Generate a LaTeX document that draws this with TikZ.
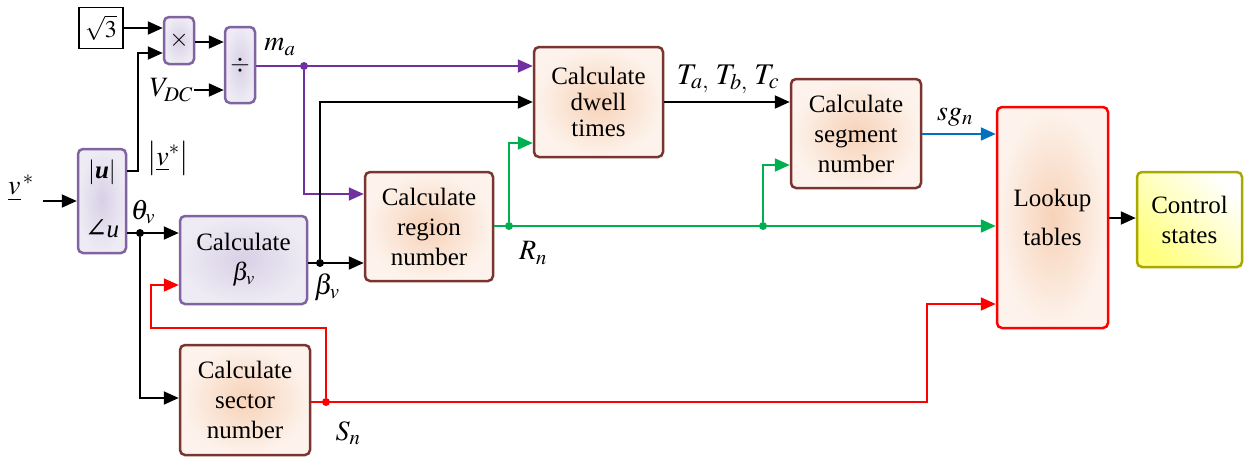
\documentclass[tikz,border=0pt]{standalone}
\usepackage{mathptmx}
\usepackage[no-math]{fontspec}
\setmainfont{Liberation Serif}
\newfontfamily\djsym{DejaVu Serif}
\usetikzlibrary{arrows.meta,calc}
\definecolor{purpB}{HTML}{8064A2}
\definecolor{purpL}{HTML}{7030A0}
\definecolor{purpIn}{HTML}{D8D0E6}
\definecolor{purpOut}{HTML}{EEEBF4}
\definecolor{brownB}{HTML}{7A3530}
\definecolor{peachIn}{HTML}{F7D2B8}
\definecolor{peachOut}{HTML}{FDF3EC}
\definecolor{grn}{HTML}{00B050}
\definecolor{blu}{HTML}{0070C0}
\definecolor{redL}{HTML}{FF0000}
\definecolor{oliveB}{HTML}{A8A800}
\definecolor{yel}{HTML}{FFFF80}
\begin{document}
\begin{tikzpicture}[x=1pt,y=-1pt,
  txt/.style={font=\fontsize{25}{30}\selectfont},
  blk/.style={txt, rounded corners=5pt, line width=2.5pt, align=center, inner sep=0pt},
  pblk/.style={blk, draw=purpB, inner color=purpIn, outer color=purpOut},
  bblk/.style={blk, draw=brownB, inner color=peachIn, outer color=peachOut},
  lbl/.style={font=\fontsize{28}{32}\selectfont, inner sep=1pt},
  arr/.style={line width=2pt, -{Triangle[length=15pt,width=13pt]}},
  parr/.style={arr, purpL, line width=1.8pt},
  garr/.style={arr, grn},
  rarr/.style={arr, redL},
  barr/.style={arr, blu},
  dot/.style={circle, fill, inner sep=0pt, minimum size=8pt}
]
\useasboundingbox (0,0) rectangle (1248,459);

% blocks
\node[draw, line width=1.8pt, minimum width=44pt, minimum height=41pt, inner sep=0pt, font=\fontsize{24}{28}\selectfont] (sq) at (101,28) {$\sqrt{3}$};
\node[pblk, minimum width=30pt, minimum height=47pt] (mul) at (179,40.5) {$\times$};
\node[pblk, minimum width=30pt, minimum height=76pt] (div) at (240,65) {$\div$};
\node[pblk, minimum width=48pt, minimum height=104pt] (abs) at (102,201) {};
\node[txt] (absu) at (102,172) {$|$\textbf{\textit{u}}$|$};
\node[txt] (angu) at (102,229) {{\djsym\fontsize{27}{30}\selectfont ∠}\kern-1pt\textit{u}};
\node[pblk, minimum width=127pt, minimum height=88pt] (beta) at (243.5,260) {Calculate\\$\beta_v$};
\node[bblk, minimum width=130pt, minimum height=110pt] (sector) at (245,400) {Calculate\\sector\\number};
\node[bblk, minimum width=128pt, minimum height=109pt] (region) at (429,226.5) {Calculate\\region\\number};
\node[bblk, minimum width=129pt, minimum height=110pt, font=\fontsize{25}{26}\selectfont] (dwell) at (598.5,102) {Calculate\\dwell\\times};
\node[bblk, minimum width=130pt, minimum height=109pt] (segment) at (856,133.5) {Calculate\\segment\\number};
\node[blk, draw=redL, inner color=peachIn, outer color=peachOut, minimum width=111pt, minimum height=221pt, font=\fontsize{25}{39}\selectfont] (lookup) at (1052.5,217.5) {Lookup\\tables};
\node[blk, draw=oliveB, top color=white, bottom color=yel, shading angle=-45, minimum width=105pt, minimum height=95pt] (control) at (1189.5,219.5) {Control\\states};

% labels
\node[lbl] (ma) at (280,47) {$m_a$};
\node[lbl, anchor=east] (vdc) at (194,90) {$V_{DC}$};
\node[lbl] (vmag) at (168,158) {$\bigl|\underline{v}^{*}\bigr|$};
\node[lbl] (vstar) at (21,188) {$\underline{v}^{\,*}$};
\node[lbl] (theta) at (143,212) {$\theta_v$};
\node[lbl] (betal) at (327,287) {$\beta_v$};
\node[lbl] (rn) at (533,253) {$R_n$};
\node[lbl] (sn) at (348,433) {$S_n$};
\node[lbl, font=\fontsize{30}{32}\selectfont] (tabc) at (728,79) {$T_{a,}\;T_{b,}\;T_c$};
\node[lbl] (sgn) at (955,117) {$sg_n$};

% coordinates
\coordinate (vin) at (43,201);
\coordinate (ab1) at (138,171);
\coordinate (ym2) at (0,53);
\coordinate (yx) at (0,42);
\coordinate (ypr) at (0,194);
\coordinate (ysec) at (0,398);
\coordinate (yb) at (0,102);
\coordinate (yr) at (0,304);
\coordinate (yrb) at (0,285);
\coordinate (rc1) at (927,402);
\coordinate (rc2) at (326,328);
\coordinate (rc3) at (151,328);
\coordinate (yg1) at (0,143);
\coordinate (yg2) at (0,165);
\coordinate (ysg) at (0,134);
\coordinate (yc) at (0,218);

% dots
\node[dot, purpL] (dm) at (304,66) {};
\node[dot] (dth) at (140,233) {};
\node[dot] (dbeta) at (320,263) {};
\node[dot, redL] (dsn) at (326,402) {};
\node[dot, grn] (dr1) at (509,226) {};
\node[dot, grn] (dr2) at (763,226) {};

% connectors
\draw[arr] (vin) -- (abs.west |- vin);
\draw[arr] (sq.east) -- (sq.east -| mul.west);
\draw[arr] (abs.east |- ab1) -- (ab1) |- (mul.west |- ym2);
\draw[arr] (mul.east |- yx) -- (div.west |- yx);
\draw[arr] (vdc.east) -- (vdc.east -| div.west);
\draw[parr] (div.east |- dm) -- (dwell.west |- dm);
\draw[parr] (dm) |- (region.west |- ypr);
\draw[arr] (abs.east |- dth) -- (beta.west |- dth);
\draw[arr] (dth) |- (sector.west |- ysec);
\draw[arr] (beta.east |- dbeta) -- (region.west |- dbeta);
\draw[arr] (dbeta) |- (dwell.west |- yb);
\draw[arr] (dwell.east |- yb) -- (segment.west |- yb);
\draw[rarr] (sector.east |- dsn) -- (rc1) |- (lookup.west |- yr);
\draw[rarr] (dsn) -- (rc2) -- (rc3) |- (beta.west |- yrb);
\draw[garr] (region.east |- dr1) -- (lookup.west |- dr1);
\draw[garr] (dr1) |- (dwell.west |- yg1);
\draw[garr] (dr2) |- (segment.west |- yg2);
\draw[barr] (segment.east |- ysg) -- (lookup.west |- ysg);
\draw[arr] (lookup.east |- yc) -- (control.west |- yc);
\end{tikzpicture}
\end{document}
